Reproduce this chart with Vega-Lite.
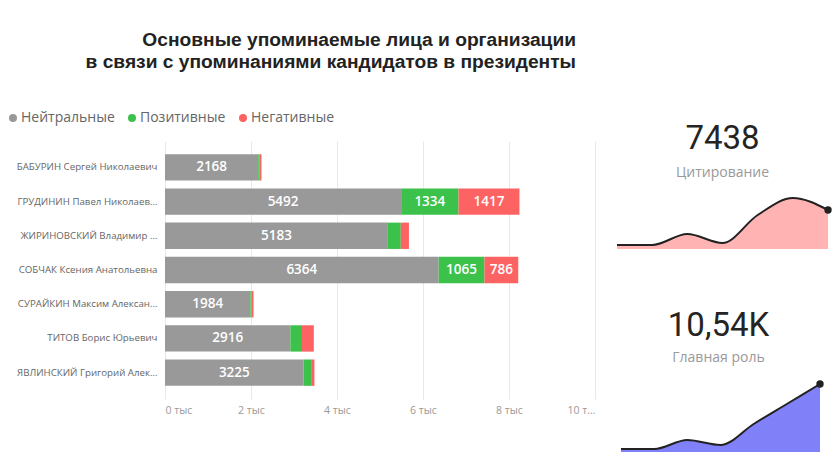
{
  "$schema": "https://vega.github.io/schema/vega-lite/v6.json",
  "background": "white",
  "padding": {"left": 6, "top": 31, "right": 5, "bottom": 5},
  "title": {
    "text": ["Основные упоминаемые лица и организации", "в связи с упоминаниями кандидатов в президенты"],
    "anchor": "start", "align": "right", "dx": 570,
    "font": "Liberation Sans", "fontSize": 19.2, "fontWeight": "bold", "color": "#222222",
    "lineHeight": 21.5, "offset": 39
  },
  "config": {
    "view": {"stroke": null},
    "font": "Open Sans"
  },
  "spacing": 18,
  "hconcat": [
    {
      "width": 430,
      "height": 258,
      "data": {"values": [
        {"name": "БАБУРИН Сергей Николаевич", "type": "Нейтральные", "ord": 1, "value": 2168},
        {"name": "БАБУРИН Сергей Николаевич", "type": "Позитивные", "ord": 2, "value": 35},
        {"name": "БАБУРИН Сергей Николаевич", "type": "Негативные", "ord": 3, "value": 40},
        {"name": "ГРУДИНИН Павел Николаевич", "type": "Нейтральные", "ord": 1, "value": 5492},
        {"name": "ГРУДИНИН Павел Николаевич", "type": "Позитивные", "ord": 2, "value": 1334},
        {"name": "ГРУДИНИН Павел Николаевич", "type": "Негативные", "ord": 3, "value": 1417},
        {"name": "ЖИРИНОВСКИЙ Владимир Вольфович", "type": "Нейтральные", "ord": 1, "value": 5183},
        {"name": "ЖИРИНОВСКИЙ Владимир Вольфович", "type": "Позитивные", "ord": 2, "value": 300},
        {"name": "ЖИРИНОВСКИЙ Владимир Вольфович", "type": "Негативные", "ord": 3, "value": 190},
        {"name": "СОБЧАК Ксения Анатольевна", "type": "Нейтральные", "ord": 1, "value": 6364},
        {"name": "СОБЧАК Ксения Анатольевна", "type": "Позитивные", "ord": 2, "value": 1065},
        {"name": "СОБЧАК Ксения Анатольевна", "type": "Негативные", "ord": 3, "value": 786},
        {"name": "СУРАЙКИН Максим Александрович", "type": "Нейтральные", "ord": 1, "value": 1984},
        {"name": "СУРАЙКИН Максим Александрович", "type": "Позитивные", "ord": 2, "value": 30},
        {"name": "СУРАЙКИН Максим Александрович", "type": "Негативные", "ord": 3, "value": 45},
        {"name": "ТИТОВ Борис Юрьевич", "type": "Нейтральные", "ord": 1, "value": 2916},
        {"name": "ТИТОВ Борис Юрьевич", "type": "Позитивные", "ord": 2, "value": 270},
        {"name": "ТИТОВ Борис Юрьевич", "type": "Негативные", "ord": 3, "value": 275},
        {"name": "ЯВЛИНСКИЙ Григорий Алексеевич", "type": "Нейтральные", "ord": 1, "value": 3225},
        {"name": "ЯВЛИНСКИЙ Григорий Алексеевич", "type": "Позитивные", "ord": 2, "value": 190},
        {"name": "ЯВЛИНСКИЙ Григорий Алексеевич", "type": "Негативные", "ord": 3, "value": 60}
      ]},
      "encoding": {
        "y": {
          "field": "name", "type": "nominal", "sort": null,
          "scale": {"paddingInner": 0.23, "paddingOuter": 0.385},
          "axis": {"title": null, "domain": false, "ticks": false, "labelFontSize": 9.7, "labelColor": "#666666", "labelLimit": 143, "labelPadding": 8, "labelFont": "Open Sans"}
        }
      },
      "layer": [
        {
          "mark": {"type": "bar"},
          "encoding": {
            "x": {
              "field": "value", "type": "quantitative", "stack": "zero",
              "scale": {"domain": [0, 10000], "nice": false},
              "axis": {
                "title": null, "values": [0, 2000, 4000, 6000, 8000, 10000],
                "labelExpr": "datum.value == 10000 ? '10 т...' : (datum.value / 1000) + ' тыс'",
                "grid": true, "gridColor": "#e8e8e8", "domain": false, "ticks": false,
                "labelFontSize": 10.5, "labelColor": "#999999", "labelPadding": 6, "labelFont": "Open Sans"
              }
            },
            "color": {
              "field": "type", "type": "nominal",
              "scale": {"domain": ["Нейтральные", "Позитивные", "Негативные"], "range": ["#999999", "#3cc24b", "#fd6363"]},
              "legend": {
                "title": null, "orient": "none", "direction": "horizontal", "legendX": -159, "legendY": -30,
                "symbolType": "circle", "symbolSize": 64, "labelFontSize": 14, "labelColor": "#666666",
                "labelFont": "Open Sans", "columnPadding": 10, "labelOffset": 1
              }
            },
            "order": {"field": "ord", "type": "quantitative"}
          }
        },
        {
          "transform": [
            {"stack": "value", "groupby": ["name"], "sort": [{"field": "ord"}], "as": ["s0", "s1"]},
            {"calculate": "(datum.s0 + datum.s1) / 2", "as": "mid"},
            {"filter": "datum.value >= 700"}
          ],
          "mark": {"type": "text", "color": "white", "fontSize": 13.5, "font": "Open Sans", "fontWeight": 600},
          "encoding": {
            "x": {"field": "mid", "type": "quantitative"},
            "text": {"field": "value", "type": "quantitative", "format": "d"}
          }
        }
      ]
    },
    {
      "spacing": 60,
      "vconcat": [
        {
          "width": 211,
          "height": 108,
          "title": {
            "text": "7438", "subtitle": "Цитирование",
            "font": "Roboto", "fontSize": 33, "fontWeight": "normal", "color": "#252423",
            "subtitleFont": "Open Sans", "subtitleFontSize": 14, "subtitleColor": "#999999", "subtitlePadding": 10,
            "anchor": "middle", "offset": -39
          },
          "data": {"values": [
            {"i": 1, "v": 193}, {"i": 2, "v": 193}, {"i": 3, "v": 725}, {"i": 4, "v": 290},
            {"i": 5, "v": 1643}, {"i": 6, "v": 2465}, {"i": 7, "v": 1885}
          ]},
          "encoding": {
            "x": {"field": "i", "type": "quantitative", "axis": null, "scale": {"domain": [1, 7], "nice": false, "zero": false}},
            "y": {"field": "v", "type": "quantitative", "axis": null, "scale": {"domain": [0, 5220], "nice": false}}
          },
          "layer": [
            {"mark": {"type": "area", "interpolate": "monotone", "color": "#ffb3b3", "opacity": 1}},
            {"mark": {"type": "line", "interpolate": "monotone", "color": "#222222", "strokeWidth": 2}},
            {"transform": [{"filter": "datum.i == 7"}], "mark": {"type": "point", "filled": true, "color": "#222222", "size": 55, "opacity": 1}}
          ]
        },
        {
          "width": 203,
          "height": 75,
          "title": {
            "text": "10,54K", "subtitle": "Главная роль",
            "font": "Roboto", "fontSize": 33, "fontWeight": "normal", "color": "#252423",
            "subtitleFont": "Open Sans", "subtitleFontSize": 14, "subtitleColor": "#999999", "subtitlePadding": 8,
            "anchor": "middle", "offset": 12
          },
          "data": {"values": [
            {"i": 1, "v": 188}, {"i": 2, "v": 188}, {"i": 3, "v": 752}, {"i": 4, "v": 439},
            {"i": 5, "v": 1755}, {"i": 6, "v": 3008}, {"i": 7, "v": 4261}
          ]},
          "encoding": {
            "x": {"field": "i", "type": "quantitative", "axis": null, "scale": {"domain": [0.88, 7], "nice": false, "zero": false}},
            "y": {"field": "v", "type": "quantitative", "axis": null, "scale": {"domain": [0, 4700], "nice": false}}
          },
          "layer": [
            {"mark": {"type": "area", "interpolate": "monotone", "color": "#8080f8", "opacity": 1}},
            {"mark": {"type": "line", "interpolate": "monotone", "color": "#222222", "strokeWidth": 2}},
            {"transform": [{"filter": "datum.i == 7"}], "mark": {"type": "point", "filled": true, "color": "#222222", "size": 55, "opacity": 1}}
          ]
        }
      ]
    }
  ]
}
